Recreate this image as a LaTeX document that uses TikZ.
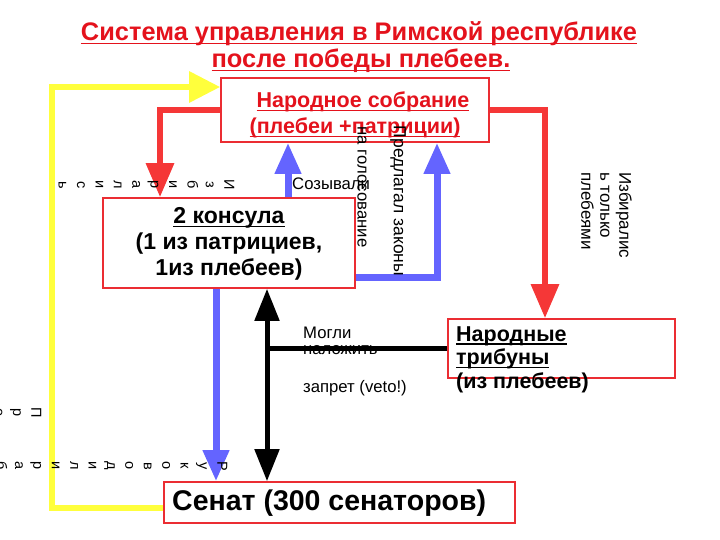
\documentclass[tikz,border=0pt]{standalone}
\usepackage{fontspec}
\setmainfont{Liberation Sans}
\newcommand\myul[1]{\setbox0\hbox{#1}\rlap{\rule[-3.5pt]{\wd0}{1.5pt}}\box0}
\usetikzlibrary{arrows.meta}
\definecolor{tred}{RGB}{228,18,28}
\definecolor{bred}{RGB}{235,45,50}
\definecolor{ared}{RGB}{245,55,55}
\definecolor{ablue}{RGB}{100,100,255}
\definecolor{ayel}{RGB}{255,255,60}
\begin{document}
\begin{tikzpicture}[x=1pt,y=-1pt,
  box/.style={draw=bred, line width=1.6pt, inner sep=0pt, fill=white},
  boxtext/.style={font=\bfseries\fontsize{21.5}{26}\selectfont, inner sep=0pt},
  lbl/.style={font=\fontsize{16.7}{19}\selectfont, inner sep=0pt},
  letters/.style={font=\fontsize{14.5}{18.4}\selectfont, inner sep=0pt, align=center, rotate=-90},
  redarr/.style={draw=ared, line width=6pt, -{Triangle[length=34pt,width=27pt]}},
  bluearr/.style={draw=ablue, line width=7pt, -{Triangle[length=31pt,width=25pt]}},
  yelarr/.style={draw=ayel, line width=6pt, -{Triangle[length=31pt,width=30pt]}},
  blackarr/.style={draw=black, line width=5pt, {Triangle[length=32pt,width=24pt]}-{Triangle[length=32pt,width=24pt]}},
  blackline/.style={draw=black, line width=5pt}
]
\useasboundingbox (0,0) rectangle (720,540);

% title
\node[font=\bfseries\fontsize{25.4}{28}\selectfont, text=tred, inner sep=0pt] (title1) at (359,34) {\myul{Система управления в Римской республике}};
\node[font=\bfseries\fontsize{25.4}{28}\selectfont, text=tred, inner sep=0pt] (title2) at (361,61) {\myul{после победы плебеев.}};

% boxes (shapes only, for anchors)
\node[box, minimum width=268pt, minimum height=64pt] (assembly) at (355,110) {};
\node[box, minimum width=252pt, minimum height=90pt] (consuls) at (229,243) {};
\node[box, minimum width=227pt, minimum height=59pt] (tribunes) at (561.5,348.5) {};
\node[box, minimum width=351pt, minimum height=41pt] (senate) at (339.5,502.5) {};

% helper coordinates
\coordinate (redL) at (160,0);
\coordinate (redR) at (545,0);
\coordinate (bUp) at (288,0);
\coordinate (bX) at (437,0);
\coordinate (bY) at (0,277);
\coordinate (bDn) at (216,0);
\coordinate (kX) at (267,0);
\coordinate (yX) at (52,0);
\coordinate (yTop) at (0,87);
\coordinate (yBot) at (0,508);

% veto labels (under the black line)
\node[lbl, anchor=west] (veto1) at (303,333) {Могли};
\node[lbl, anchor=west] (veto2) at (303,350) {наложить};
\node[lbl, anchor=west] (veto3) at (303,388) {запрет (veto!)};

% connectors
\draw[yelarr] (senate.west |- yBot) -- (yX |- yBot) -- (yX |- yTop) -- (assembly.west |- yTop);
\draw[redarr] (assembly.west) -| (consuls.north -| redL);
\draw[redarr] (assembly.east) -| (tribunes.north -| redR);
\draw[bluearr] (consuls.north -| bUp) -- (assembly.south -| bUp);
\draw[bluearr] (consuls.east |- bY) -| (assembly.south -| bX);
\draw[bluearr] (consuls.south -| bDn) -- (senate.north -| bDn);
\draw[blackline] (tribunes.west) -- (tribunes.west -| kX);
\draw[blackarr] (consuls.south -| kX) -- (senate.north -| kX);

% box texts
\node[boxtext, text=tred] (asm1) at (363,102) {\myul{Народное собрание}};
\node[boxtext, text=tred] (asm2) at (355,128) {\myul{(плебеи +патриции)}};
\node[boxtext, font=\bfseries\fontsize{23}{26}\selectfont, align=center] (constext) at (229,244) {\myul{2 консула}\\(1 из патрициев,\\1из плебеев)};
\node[boxtext, font=\bfseries\fontsize{21.5}{23.5}\selectfont, align=left, anchor=west] (tribtext) at (456,359.5) {\myul{Народные}\\\myul{трибуны}\\(из плебеев)};
\node[boxtext, font=\bfseries\fontsize{28.5}{32}\selectfont, anchor=west] (sentext) at (172,503) {Сенат (300 сенаторов)};

% connector labels
\node[lbl, anchor=west] (convoke) at (292,184) {Созывали};
\node[lbl, rotate=-90] (vote) at (362,187) {на голосование};
\node[lbl, font=\fontsize{17.5}{19}\selectfont, rotate=-90] (propose) at (398,201) {Предлагал законы};
\node[lbl, font=\fontsize{17}{19}\selectfont, rotate=-90, align=left, anchor=north west] (elected) at (632,172) {Избиралис\\ь только\\плебеями};

% stacked rotated letters
\node[letters] (elect2) at (146.5,185) {И\\з\\б\\и\\р\\а\\л\\и\\с\\ь};
\node[letters] (lead1) at (112,466) {Р\\у\\к\\о\\в\\о\\д\\и\\л\\и\\р\\а\\б};
\node[letters] (lead2) at (18,413) {П\\р\\е};
\end{tikzpicture}
\end{document}
